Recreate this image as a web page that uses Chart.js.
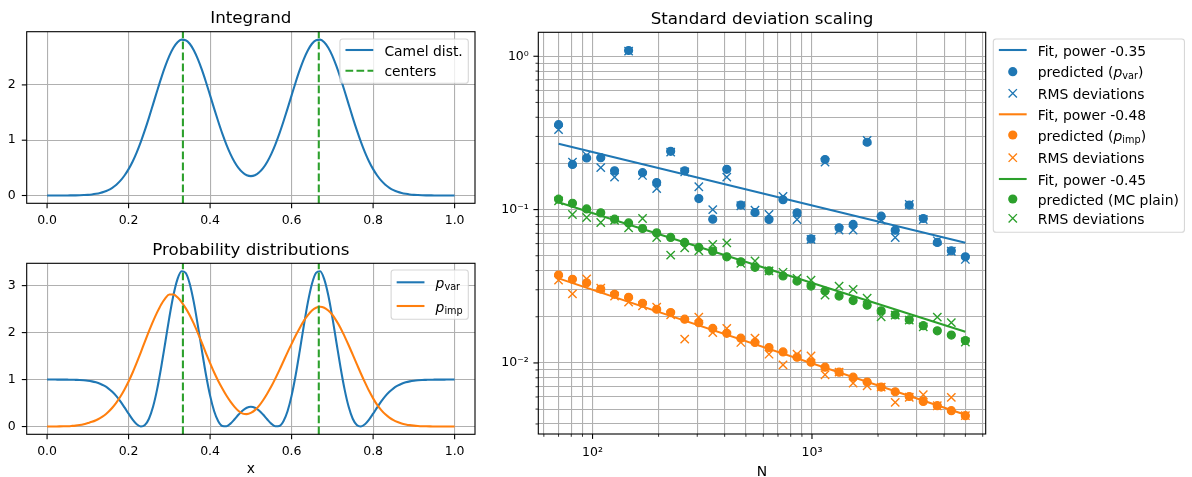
<!DOCTYPE html>
<html>
<head>
<meta charset="utf-8">
<script src="https://cdn.jsdelivr.net/npm/chart.js@4.4.0/dist/chart.umd.min.js"></script>
<style>
  body { margin: 0; background: #fff; }
  #wrap { position: relative; width: 1192px; height: 477px; }
  canvas { position: absolute; }
</style>
</head>
<body>
<div id="wrap">
  <canvas id="integrand" width="490" height="228" style="left:0;top:0"></canvas>
  <canvas id="probs" width="490" height="247" style="left:0;top:230px"></canvas>
  <canvas id="scaling" width="702" height="477" style="left:490px;top:0"></canvas>
</div>
<script>
const FONT = '"DejaVu Sans"';
const BLUE = '#1f77b4', ORANGE = '#ff7f0e', GREEN = '#2ca02c';

// ---- left panels: curves sampled on [0, 1] ----
const xGrid = [0.00,0.01,0.02,0.03,0.04,0.05,0.06,0.07,0.08,0.09,0.10,0.11,0.12,0.13,0.14,0.15,0.16,0.17,0.18,0.19,
  0.20,0.21,0.22,0.23,0.24,0.25,0.26,0.27,0.28,0.29,0.30,0.31,0.32,0.33,0.34,0.35,0.36,0.37,0.38,0.39,
  0.40,0.41,0.42,0.43,0.44,0.45,0.46,0.47,0.48,0.49,0.50,0.51,0.52,0.53,0.54,0.55,0.56,0.57,0.58,0.59,
  0.60,0.61,0.62,0.63,0.64,0.65,0.66,0.67,0.68,0.69,0.70,0.71,0.72,0.73,0.74,0.75,0.76,0.77,0.78,0.79,
  0.80,0.81,0.82,0.83,0.84,0.85,0.86,0.87,0.88,0.89,0.90,0.91,0.92,0.93,0.94,0.95,0.96,0.97,0.98,0.99,1.00];

const camelDist = [0.000,0.000,0.000,0.000,0.001,0.001,0.002,0.003,0.005,0.008,0.012,0.019,0.030,0.045,0.067,0.098,0.140,0.196,0.269,0.362,
  0.477,0.616,0.781,0.970,1.181,1.409,1.648,1.889,2.123,2.338,2.524,2.671,2.771,2.818,2.809,2.744,2.627,2.466,2.270,2.048,
  1.811,1.571,1.338,1.118,0.921,0.749,0.607,0.495,0.415,0.367,0.351,0.367,0.415,0.495,0.607,0.749,0.921,1.118,1.338,1.571,
  1.811,2.048,2.270,2.466,2.627,2.744,2.809,2.818,2.771,2.671,2.524,2.338,2.123,1.889,1.648,1.409,1.181,0.970,0.781,0.616,
  0.477,0.362,0.269,0.196,0.140,0.098,0.067,0.045,0.030,0.019,0.012,0.008,0.005,0.003,0.002,0.001,0.001,0.000,0.000,0.000,0.000];

const pVar = [1.000,1.000,1.000,0.999,0.999,0.998,0.997,0.994,0.991,0.985,0.976,0.962,0.941,0.912,0.870,0.814,0.739,0.647,0.535,0.407,
  0.274,0.147,0.048,0.001,0.033,0.167,0.420,0.791,1.262,1.789,2.323,2.794,3.138,3.304,3.271,3.040,2.648,2.149,1.611,1.097,
  0.658,0.326,0.114,0.014,0.006,0.063,0.155,0.255,0.342,0.401,0.422,0.401,0.342,0.255,0.155,0.063,0.006,0.014,0.114,0.326,
  0.658,1.097,1.611,2.149,2.648,3.040,3.271,3.304,3.138,2.794,2.323,1.789,1.262,0.791,0.420,0.167,0.033,0.001,0.048,0.147,
  0.274,0.407,0.535,0.647,0.739,0.814,0.870,0.912,0.941,0.962,0.976,0.985,0.991,0.994,0.997,0.998,0.999,0.999,1.000,1.000,1.000];

const pImp = [0.000,0.001,0.002,0.003,0.005,0.008,0.013,0.020,0.032,0.050,0.075,0.100,0.135,0.180,0.235,0.31,0.40,0.51,0.64,0.79,
  0.96,1.15,1.36,1.58,1.81,2.03,2.24,2.43,2.60,2.73,2.81,2.81,2.75,2.65,2.52,2.37,2.19,1.99,1.78,1.56,
  1.35,1.15,0.97,0.81,0.66,0.53,0.42,0.33,0.275,0.265,0.29,0.35,0.44,0.56,0.70,0.85,1.02,1.20,1.39,1.58,
  1.76,1.94,2.10,2.25,2.37,2.47,2.53,2.55,2.53,2.47,2.38,2.25,2.10,1.92,1.73,1.53,1.33,1.13,0.94,0.76,
  0.60,0.46,0.35,0.26,0.19,0.135,0.095,0.065,0.045,0.030,0.020,0.013,0.008,0.005,0.003,0.002,0.001,0.001,0.000,0.000,0.000];

const centers = [0.3333, 0.6667];
const unitTicks = [0, 0.2, 0.4, 0.6, 0.8, 1.0];
const integrandTicks = [0, 1, 2];
const probTicks = [0, 1, 2, 3];

// ---- right panel: standard deviation vs number of samples ----
const nSamples = [70, 81, 94, 109, 126, 146, 169, 196, 227, 263, 305, 353, 409, 474, 550,
  637, 738, 855, 990, 1147, 1329, 1540, 1784, 2067, 2395, 2775, 3215, 3725, 4315, 5000];
const predVar = [0.358, 0.197, 0.217, 0.218, 0.179, 1.09, 0.174, 0.150, 0.240, 0.179, 0.118, 0.0866, 0.183, 0.107, 0.0957,
  0.0862, 0.116, 0.0952, 0.0645, 0.212, 0.076, 0.080, 0.275, 0.0906, 0.0734, 0.107, 0.0875, 0.0611, 0.0539, 0.0492];
const rmsVar = [0.332, 0.204, 0.226, 0.188, 0.163, 1.08, 0.167, 0.137, 0.237, 0.176, 0.141, 0.100, 0.163, 0.106, 0.099,
  0.093, 0.122, 0.0862, 0.0640, 0.204, 0.0734, 0.0734, 0.283, 0.0853, 0.0658, 0.108, 0.0862, 0.0626, 0.0535, 0.0473];
const predImp = [0.0374, 0.0351, 0.0333, 0.0303, 0.0280, 0.0268, 0.0245, 0.0224, 0.0213, 0.0193, 0.0183, 0.0168, 0.0156, 0.0145, 0.0136,
  0.0126, 0.0118, 0.0109, 0.0101, 0.00939, 0.00871, 0.00808, 0.00750, 0.00696, 0.00649, 0.00604, 0.00561, 0.00526, 0.00488, 0.00453];
const rmsImp = [0.0347, 0.0282, 0.0353, 0.0307, 0.0273, 0.0249, 0.0236, 0.0231, 0.0206, 0.0143, 0.0199, 0.0158, 0.0168, 0.0136, 0.0145,
  0.0114, 0.00972, 0.0114, 0.0111, 0.00837, 0.00871, 0.00739, 0.00710, 0.00696, 0.00553, 0.00597, 0.00620, 0.00526, 0.00596, 0.00453];
const predPlain = [0.117, 0.110, 0.101, 0.0952, 0.0866, 0.0819, 0.0753, 0.0705, 0.0658, 0.0611, 0.0567, 0.0536, 0.0492, 0.0457, 0.0420,
  0.0399, 0.0369, 0.0342, 0.0317, 0.0294, 0.0273, 0.0255, 0.0238, 0.0219, 0.0206, 0.0191, 0.0175, 0.0162, 0.0152, 0.0140];
const rmsPlain = [0.114, 0.0929, 0.0888, 0.0824, 0.085, 0.0760, 0.0875, 0.0658, 0.0505, 0.0563, 0.0539, 0.0593, 0.0607, 0.0446, 0.0462,
  0.0398, 0.0390, 0.0356, 0.0347, 0.0277, 0.0317, 0.0302, 0.0264, 0.0200, 0.0205, 0.0190, 0.0172, 0.0199, 0.0183, 0.0137];
const fitN = [70, 5000];
const fitVar = [0.269, 0.0607];
const fitImp = [0.0356, 0.0046];
const fitPlain = [0.1115, 0.0160];
const fitPowers = ['-0.35', '-0.48', '-0.45'];

const nTicks = [60, 70, 80, 90, 100, 200, 300, 400, 500, 600, 700, 800, 900, 1000, 2000, 3000, 4000, 5000, 6000];
const nLabels = {100: '10²', 1000: '10³'};
const sdTicks = [0.004, 0.005, 0.006, 0.007, 0.008, 0.009, 0.01, 0.02, 0.03, 0.04, 0.05, 0.06, 0.07, 0.08, 0.09,
  0.1, 0.2, 0.3, 0.4, 0.5, 0.6, 0.7, 0.8, 0.9, 1];
const sdLabels = {0.01: '10⁻²', 0.1: '10⁻¹', 1: '10⁰'};

const pts = (xs, ys) => xs.map((x, i) => ({x, y: ys[i]}));

// ---- text / legend helpers (matplotlib-like look) ----
function partFont(p, fs) {
  return (p.it ? 'italic ' : '') + (p.sub ? fs * 0.7 : fs) + 'px ' + FONT;
}
function richWidth(ctx, parts, fs) {
  let w = 0;
  for (const p of parts) { ctx.font = partFont(p, fs); w += ctx.measureText(p.t).width; }
  return w;
}
function drawRich(ctx, parts, x, y, fs) {
  ctx.textAlign = 'left';
  ctx.textBaseline = 'alphabetic';
  ctx.fillStyle = '#000';
  for (const p of parts) {
    ctx.font = partFont(p, fs);
    ctx.fillText(p.t, x, p.sub ? y + fs * 0.16 : y);
    x += ctx.measureText(p.t).width;
  }
}
function drawHandle(ctx, kind, color, hx, cy, fs) {
  const len = 2 * fs, mx = hx + len / 2;
  ctx.save();
  if (kind === 'line' || kind === 'dash') {
    ctx.strokeStyle = color; ctx.lineWidth = 2.08;
    if (kind === 'dash') ctx.setLineDash([7.7, 3.3]);
    ctx.beginPath(); ctx.moveTo(hx, cy); ctx.lineTo(hx + len, cy); ctx.stroke();
  } else if (kind === 'dot') {
    ctx.fillStyle = color;
    ctx.beginPath(); ctx.arc(mx, cy, 4.6, 0, 2 * Math.PI); ctx.fill();
  } else {
    const r = 4.17;
    ctx.strokeStyle = color; ctx.lineWidth = 1.39;
    ctx.beginPath();
    ctx.moveTo(mx - r, cy - r); ctx.lineTo(mx + r, cy + r);
    ctx.moveTo(mx - r, cy + r); ctx.lineTo(mx + r, cy - r);
    ctx.stroke();
  }
  ctx.restore();
}
function drawLegend(ctx, lg) {
  const fs = 13.9, pad = 0.4 * fs;
  const textW = Math.max(...lg.rows.map(r => richWidth(ctx, r.parts, fs)));
  const w = pad * 2 + 2 * fs + 0.8 * fs + textW;
  const x = lg.right !== undefined ? lg.right - w : lg.left;
  ctx.save();
  ctx.beginPath();
  ctx.roundRect(x, lg.top, w, lg.h, 2.8);
  ctx.fillStyle = 'rgba(255,255,255,0.8)';
  ctx.fill();
  ctx.strokeStyle = 'rgba(204,204,204,0.8)';
  ctx.lineWidth = 1.1;
  ctx.stroke();
  lg.rows.forEach((r, i) => {
    const cy = lg.top + lg.offsets[i];
    drawHandle(ctx, r.kind, r.color, x + pad, cy, fs);
    drawRich(ctx, r.parts, x + pad + 2.8 * fs, cy + 5.5, fs);
  });
  ctx.restore();
}

// frame, tick marks, dashed centre lines, title, axis label, legend
function axesDecor(cfg) {
  return {
    id: 'axesDecor',
    afterDatasetsDraw(chart) {
      if (!cfg.centers) return;
      const {ctx, chartArea: a, scales} = chart;
      ctx.save();
      ctx.strokeStyle = GREEN; ctx.lineWidth = 2.08; ctx.setLineDash([7.7, 3.3]);
      for (const c of cfg.centers) {
        const px = scales.x.getPixelForValue(c);
        ctx.beginPath(); ctx.moveTo(px, a.bottom); ctx.lineTo(px, a.top); ctx.stroke();
      }
      ctx.restore();
    },
    afterDraw(chart) {
      const {ctx, chartArea: a, scales} = chart;
      ctx.save();
      ctx.strokeStyle = '#000';
      ctx.lineWidth = 1.1;
      ctx.strokeRect(a.left, a.top, a.right - a.left, a.bottom - a.top);
      for (const t of scales.x.ticks) {
        const px = scales.x.getPixelForValue(t.value);
        ctx.lineWidth = t.minor ? 0.8 : 1.1;
        ctx.beginPath(); ctx.moveTo(px, a.bottom); ctx.lineTo(px, a.bottom + (t.minor ? 2.8 : 4.9)); ctx.stroke();
      }
      for (const t of scales.y.ticks) {
        const py = scales.y.getPixelForValue(t.value);
        ctx.lineWidth = t.minor ? 0.8 : 1.1;
        ctx.beginPath(); ctx.moveTo(a.left - (t.minor ? 2.8 : 4.9), py); ctx.lineTo(a.left, py); ctx.stroke();
      }
      ctx.fillStyle = '#000';
      ctx.textAlign = 'center';
      ctx.textBaseline = 'alphabetic';
      ctx.font = '16.7px ' + FONT;
      ctx.fillText(cfg.title, (a.left + a.right) / 2, a.top - 8.3);
      if (cfg.xlabel) {
        ctx.font = '13.9px ' + FONT;
        ctx.fillText(cfg.xlabel, (a.left + a.right) / 2, a.bottom + cfg.xlabelGap);
      }
      ctx.restore();
      if (cfg.legend) drawLegend(ctx, cfg.legend(a));
    }
  };
}

const tickFont = {family: 'DejaVu Sans', size: 12.5};
const gridOpts = {color: '#b0b0b0', lineWidth: 1.1, drawTicks: false};

function linearAxis(min, max, ticks, fmt, pad, size, horizontal) {
  return {
    type: 'linear', min, max, bounds: 'data',
    afterBuildTicks: s => { s.ticks = ticks.map(v => ({value: v})); },
    afterFit: s => { if (horizontal) s.height = size; else s.width = size; },
    ticks: {font: tickFont, color: '#000', padding: pad, maxRotation: 0, autoSkip: false, callback: fmt},
    grid: gridOpts,
    border: {display: false}
  };
}
function logAxis(min, max, ticks, labels, pad, size, horizontal) {
  return {
    type: 'logarithmic', min, max, bounds: 'data',
    afterBuildTicks: s => { s.ticks = ticks.map(v => ({value: v, minor: !(v in labels)})); },
    afterFit: s => { if (horizontal) s.height = size; else s.width = size; },
    ticks: {font: tickFont, color: '#000', padding: pad, maxRotation: 0, autoSkip: false, callback: v => labels[v] || ''},
    grid: gridOpts,
    border: {display: false}
  };
}

const baseOpts = {
  responsive: false, animation: false, devicePixelRatio: 1, events: [],
  plugins: {legend: {display: false}, tooltip: {enabled: false}}
};

function curve(ys, color, order) {
  return {data: pts(xGrid, ys), showLine: true, borderColor: color, borderWidth: 2.08,
    pointRadius: 0, cubicInterpolationMode: 'monotone', fill: false, order};
}

// ---- Integrand ----
new Chart(document.getElementById('integrand'), {
  type: 'scatter',
  data: {datasets: [curve(camelDist, BLUE, 1)]},
  options: Object.assign({}, baseOpts, {
    layout: {padding: {left: 0, right: 15, top: 31.7, bottom: 0}},
    scales: {
      x: linearAxis(-0.05, 1.05, unitTicks, v => v.toFixed(1), 9.5, 24.7, true),
      y: linearAxis(-0.141, 2.962, integrandTicks, v => String(v), 11, 26.7, false)
    }
  }),
  plugins: [axesDecor({
    title: 'Integrand', centers,
    legend: a => ({right: a.right - 6.7, top: a.top + 7.3, h: 44.3, offsets: [11, 31.7], rows: [
      {kind: 'line', color: BLUE, parts: [{t: 'Camel dist.'}]},
      {kind: 'dash', color: GREEN, parts: [{t: 'centers'}]}
    ]})
  })]
});

// ---- Probability distributions ----
new Chart(document.getElementById('probs'), {
  type: 'scatter',
  data: {datasets: [curve(pVar, BLUE, 2), curve(pImp, ORANGE, 1)]},
  options: Object.assign({}, baseOpts, {
    layout: {padding: {left: 0, right: 15, top: 33.3, bottom: 0}},
    scales: {
      x: linearAxis(-0.05, 1.05, unitTicks, v => v.toFixed(1), 9.5, 42.7, true),
      y: linearAxis(-0.165, 3.475, probTicks, v => String(v), 11, 26.7, false)
    }
  }),
  plugins: [axesDecor({
    title: 'Probability distributions', centers, xlabel: 'x', xlabelGap: 39,
    legend: a => ({right: a.right - 6.7, top: a.top + 6.7, h: 49.3, offsets: [12.3, 36], rows: [
      {kind: 'line', color: BLUE, parts: [{t: 'p', it: true}, {t: 'var', sub: true}]},
      {kind: 'line', color: ORANGE, parts: [{t: 'p', it: true}, {t: 'imp', sub: true}]}
    ]})
  })]
});

// ---- Standard deviation scaling ----
const groups = [
  {color: BLUE, fit: fitVar, pred: predVar, rms: rmsVar, power: fitPowers[0],
   name: [{t: 'predicted ('}, {t: 'p', it: true}, {t: 'var', sub: true}, {t: ')'}]},
  {color: ORANGE, fit: fitImp, pred: predImp, rms: rmsImp, power: fitPowers[1],
   name: [{t: 'predicted ('}, {t: 'p', it: true}, {t: 'imp', sub: true}, {t: ')'}]},
  {color: GREEN, fit: fitPlain, pred: predPlain, rms: rmsPlain, power: fitPowers[2],
   name: [{t: 'predicted (MC plain)'}]}
];
const scalingSets = [];
const legendRows = [];
groups.forEach(g => {
  scalingSets.push({data: pts(fitN, g.fit), showLine: true, borderColor: g.color, borderWidth: 2.08, pointRadius: 0});
  scalingSets.push({data: pts(nSamples, g.pred), showLine: false, pointStyle: 'circle', pointRadius: 4.0,
    pointBackgroundColor: g.color, pointBorderColor: g.color, pointBorderWidth: 1.2});
  scalingSets.push({data: pts(nSamples, g.rms), showLine: false, pointStyle: 'crossRot', pointRadius: 5.9,
    pointBorderColor: g.color, pointBorderWidth: 1.39});
  legendRows.push({kind: 'line', color: g.color, parts: [{t: 'Fit, power ' + g.power}]});
  legendRows.push({kind: 'dot', color: g.color, parts: g.name});
  legendRows.push({kind: 'cross', color: g.color, parts: [{t: 'RMS deviations'}]});
});
scalingSets.forEach((d, i) => { d.order = scalingSets.length - i; });

new Chart(document.getElementById('scaling'), {
  type: 'scatter',
  data: {datasets: scalingSets},
  options: Object.assign({}, baseOpts, {
    layout: {padding: {left: 0, right: 206.3, top: 32.3, bottom: 0}},
    scales: {
      x: logAxis(56.6, 6190, nTicks, nLabels, 11, 43, true),
      y: logAxis(0.00344, 1.433, sdTicks, sdLabels, 9.5, 48.3, false)
    }
  }),
  plugins: [axesDecor({
    title: 'Standard deviation scaling', xlabel: 'N', xlabelGap: 42,
    legend: a => ({left: a.right + 7.6, top: a.top + 6.7, h: 193.3,
      offsets: [11, 32.7, 54.3, 75.3, 96, 118.7, 140, 160, 179.3], rows: legendRows})
  })]
});
</script>
</body>
</html>
